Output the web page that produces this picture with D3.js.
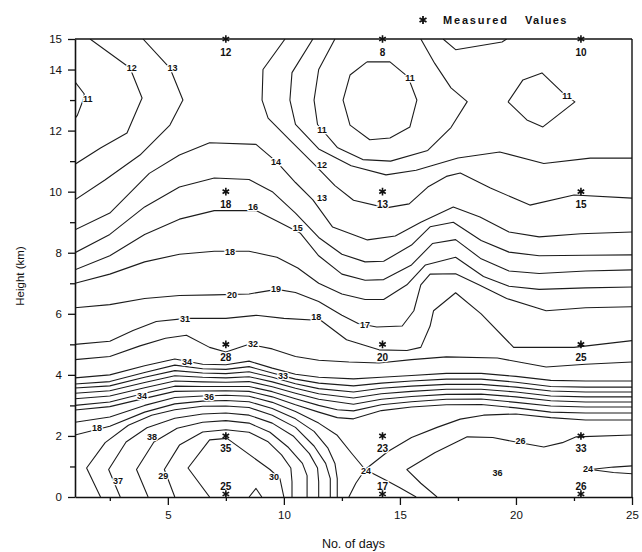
<!DOCTYPE html>
<html>
<head>
<meta charset="utf-8">
<script src="https://cdn.jsdelivr.net/npm/d3@7"></script>
<style>
body { margin: 0; background: #fff; }
text { font-family: "Liberation Sans", Arial, sans-serif; fill: #111; }
</style>
</head>
<body>
<svg id="chart"></svg>
<script>
var canvas_width = 642;
var canvas_height = 552;
var left_offset = 75;
var right_edge = 632;
var top_offset = 39;
var bottom_edge = 497;

// traced contour lines, [day, km]
const top_lines = [
    [[1,13.6],[1.4,13.2],[1.35,13.0],[1.1,12.5],[1,12.4]],
    [[1.65,15],[3.37,14.05],[3.89,13.07],[3.24,11.92],[2.1,11.43],[1,10.9]],
    [[3.93,15],[5.09,14.05],[5.65,13.0],[5.09,12.18],[3.8,11.2],[2.29,10.38],[1,9.73]],
    [[10.05,15],[9.1,14],[9.06,13],[9.32,12.41],[10.26,11.69],[11.3,10.9],[12.2,10.2],[13.0,9.72],[14.4,9.47],[15.4,9.6],[16.2,10.15],[17.0,10.5],[17.6,10.61],[18.9,10.12],[20.6,9.56],[22.5,9.89],[25,9.79]],
    [[11.25,15],[10.35,13.9],[10.26,13.0],[10.5,12.2],[11.5,11.4],[12.9,10.85],[14.4,10.55],[15.7,10.7],[17.5,11.1],[19.3,11.3],[21.2,10.92],[23.2,11.1],[25,11.1]],
    [[12.2,15],[11.5,14.0],[11.3,13.0],[11.45,12.2],[12.3,11.45],[13.4,11.05],[14.6,11.0],[16.2,11.35],[17.2,12.1],[17.9,12.95],[17.2,13.4],[16.5,14.2],[15.9,15]],
    [[13.58,14.25],[14.57,14.25],[15.35,13.76],[15.73,13.0],[15.43,12.12],[14.57,11.76],[13.7,11.7],[12.85,12.18],[12.55,13.0],[12.85,13.82],[13.58,14.25]],
    [[19.66,12.94],[20.3,13.66],[21.12,13.89],[22.11,13.17],[22.54,12.94],[21.16,12.12],[20.47,12.35],[19.66,12.94]],
    [[16.86,15],[17.4,14.65],[19.4,14.9],[19.6,15]]
];

const mid_lines = [
    [[1,8.75],[2.5,9.3],[4.2,10.6],[5.5,11.2],[6.8,11.6],[8.8,11.55],[9.7,10.97],[10.5,10.3],[11.25,9.73],[12.1,8.84],[13.6,8.42],[14.8,8.55],[15.9,9.0],[17.3,9.5],[18.45,9.17],[19.7,8.68],[21,8.52],[22.8,8.62],[25,8.68]],
    [[1,8.0],[2.5,8.6],[4,9.5],[5.5,10.15],[7,10.45],[8.5,10.4],[9.5,10.0],[10.5,9.3],[11.5,8.5],[12.5,7.95],[13.5,7.7],[14.3,7.72],[15.5,8.25],[16.3,8.85],[17.3,9.0],[18.5,8.4],[19.7,8.02],[21,7.9],[23,7.92],[25,7.93]],
    [[1,7.44],[2.5,7.9],[4,8.6],[5.5,9.1],[7,9.38],[8.8,9.38],[9.8,9.0],[10.7,8.65],[11.5,7.9],[12.5,7.3],[13.5,7.1],[14.3,7.12],[15.5,7.6],[16.4,8.3],[17.4,8.43],[18.5,7.8],[19.7,7.4],[21,7.32],[23,7.4],[25,7.44]],
    [[1,7.0],[2.5,7.3],[4,7.7],[5.5,7.95],[7,8.05],[8.5,8.05],[9.7,7.85],[10.6,7.5],[11.5,7.0],[12.5,6.65],[13.5,6.47],[14.3,6.47],[15.3,6.95],[16.1,7.6],[17.4,7.85],[18.6,7.22],[19.7,6.9],[21,6.8],[23,6.85],[25,6.88]],
    [[1,6.2],[2.5,6.3],[4,6.5],[5.5,6.6],[7,6.62],[8.5,6.65],[9.7,6.8],[10.5,6.7],[11.5,6.4],[12.5,5.95],[13.2,5.68],[14,5.57],[15.1,5.6],[15.6,6.1],[15.9,6.95],[16.3,7.3],[17.4,7.31],[18.4,6.95],[19.6,6.5],[21.3,6.1],[23,6.2],[25,6.23]],
    [[1,5.0],[2.5,5.1],[3.5,5.45],[4.5,5.75],[5.8,5.85],[7.5,5.85],[8.8,5.95],[10,5.85],[11.6,5.78],[12.7,5.15],[14.1,4.82],[15.3,4.8],[15.9,4.9],[16.3,5.6],[16.45,6.1],[17.4,6.69],[18.5,6.0],[19.9,4.9],[22.5,4.9],[25,5.12]],
    [[1,4.5],[2.5,4.6],[3.8,4.95],[4.9,5.2],[5.8,5.3],[6.8,4.9],[7.5,4.75],[8.5,5.0],[9.5,4.85],[10.5,4.6],[11.5,4.48],[12.8,4.42],[14.1,4.39],[15.5,4.5],[17,4.59],[19.2,4.55],[21.3,4.26],[23,4.35],[25,4.42]]
];

const low_lines = [
    [[1,3.9],[2.5,4.0],[4,4.3],[5.3,4.52],[6.5,4.35],[7.5,4.33],[8.5,4.45],[9.5,4.22],[10.5,4.02],[11.5,3.92],[13,3.87],[14.2,3.92],[15.5,3.98],[17,4.05],[18.5,4.05],[20,3.95],[21.5,3.82],[23,3.8],[25,3.8]],
    [[1,3.7],[2.5,3.78],[4,4.08],[5.3,4.32],[6.5,4.2],[7.5,4.18],[8.5,4.27],[9.5,4.06],[10.5,3.86],[11.5,3.73],[13,3.64],[14.2,3.73],[15.5,3.8],[17,3.86],[18.5,3.86],[20,3.76],[21.5,3.62],[23,3.6],[25,3.6]],
    [[1,3.57],[2.5,3.64],[4,3.92],[5.3,4.14],[6.5,4.06],[7.5,4.04],[8.5,4.1],[9.5,3.92],[10.5,3.71],[11.5,3.55],[13,3.44],[14.2,3.56],[15.5,3.63],[17,3.69],[18.5,3.69],[20,3.6],[21.5,3.47],[23,3.44],[25,3.44]],
    [[1,3.4],[2.5,3.48],[4,3.75],[5.3,3.97],[6.5,3.92],[7.5,3.9],[8.5,3.94],[9.5,3.77],[10.5,3.56],[11.5,3.38],[13,3.24],[14.2,3.38],[15.5,3.46],[17,3.53],[18.5,3.53],[20,3.44],[21.5,3.31],[23,3.28],[25,3.28]],
    [[1,3.22],[2.5,3.31],[4,3.58],[5.3,3.8],[6.5,3.77],[7.5,3.76],[8.5,3.78],[9.5,3.61],[10.5,3.4],[11.5,3.2],[13,3.04],[14.2,3.2],[15.5,3.29],[17,3.36],[18.5,3.37],[20,3.28],[21.5,3.15],[23,3.11],[25,3.11]],
    [[1,3.0],[2.5,3.11],[4,3.4],[5.3,3.63],[6.5,3.62],[7.5,3.62],[8.5,3.62],[9.5,3.45],[10.5,3.22],[11.5,3.0],[12.3,2.86],[13,2.82],[14.2,3.02],[15.5,3.12],[17,3.2],[18.5,3.21],[20,3.1],[21.5,2.98],[23,2.95],[25,2.95]],
    [[1,2.85],[2.5,2.96],[4,3.23],[5.3,3.46],[6.5,3.47],[7.5,3.48],[8.5,3.46],[9.5,3.28],[10.5,3.02],[11.5,2.78],[12.3,2.6],[13,2.56],[14.2,2.83],[15.5,2.95],[17,3.02],[18.5,3.03],[20,2.92],[21.5,2.78],[23,2.75],[25,2.75]],
    [[1,2.45],[2.5,2.62],[4,3.0],[5.3,3.26],[6.5,3.31],[7.5,3.33],[8.5,3.3],[9.5,3.1],[10.5,2.8],[11.5,2.42],[12.3,2.02],[12.9,1.45],[13.5,0.9],[14.4,0.55],[15,0.3],[15.7,0]],
    [[1,2.03],[2.5,2.32],[4,2.78],[5.3,3.05],[6.5,3.14],[7.5,3.16],[8.5,3.12],[9.5,2.9],[10.5,2.56],[11.3,2.15],[11.9,1.6],[12.2,1.1],[12.3,0.6],[12.3,0]],
    [[12.8,0],[13.1,0.45],[13.5,0.9],[14.5,1.5],[15.5,1.95],[16.6,2.28],[17.6,2.55],[18.6,2.68],[20,2.72],[21.5,2.6],[23,2.52],[25,2.52]],
    [[16.6,0],[15.9,0.45],[15.3,0.9],[16.5,1.45],[17.9,1.97],[19,1.95],[20,1.8],[21.2,1.64],[22,1.78],[22.6,1.97],[25,2.03]],
    [[25,1.02],[24.2,0.98],[23.2,0.9],[24.2,0.8],[25,0.76]]
];

const peak_lines = [
    [[2.1,0],[1.5,0.95],[2.3,1.78],[3.3,2.35],[4.3,2.68],[5.3,2.86],[6.5,2.97],[7.5,2.98],[8.5,2.93],[9.5,2.68],[10.5,2.28],[11.3,1.67],[11.8,1.1],[12,0.6],[12,0]],
    [[2.95,0],[2.45,0.9],[3.2,1.8],[4.1,2.27],[5.3,2.58],[6.5,2.72],[7.5,2.75],[8.5,2.68],[9.5,2.42],[10.4,2.0],[11.1,1.42],[11.45,0.95],[11.5,0.5],[11.5,0]],
    [[4.15,0],[3.65,0.9],[4.4,1.8],[5.4,2.25],[6.5,2.45],[7.5,2.5],[8.5,2.42],[9.4,2.12],[10.2,1.62],[10.8,1.1],[11,0.7],[11,0]],
    [[5.3,0],[4.85,0.9],[5.5,1.7],[6.5,2.13],[7.5,2.2],[8.5,2.12],[9.3,1.82],[9.9,1.38],[10.3,0.95],[10.35,0.5],[10.35,0]],
    [[6.8,0],[5.87,0.95],[6.8,1.87],[7.55,1.92],[9.4,0.9],[9.83,0.6],[10,0]],
    [[8.5,0],[8.8,0.28],[9.05,0]]
];

// contour value labels as printed
const label_text = ["11","12","13","14","11","12","13","11","11","15","18","16","19","20","31","32","34","33","34","36","18","38","37","29","30","17","18","24","26","36","24"];
const label_day  = [1.55,3.45,5.2,9.66,11.64,11.64,11.64,15.43,22.2,10.6,7.68,8.67,9.66,7.76,5.74,8.67,5.83,9.96,3.89,6.77,1.95,4.32,2.85,4.8,9.57,13.5,11.4,13.54,20.2,19.2,23.1];
const label_km   = [13.05,14.05,14.05,10.97,12.02,10.87,9.79,13.73,13.13,8.81,8.02,9.5,6.81,6.62,5.83,5.01,4.42,3.96,3.31,3.28,2.26,1.97,0.52,0.69,0.66,5.63,5.9,0.85,1.83,0.79,0.92];

// measured values
const measured_days = [7.5, 14.25, 22.8];
const measured_heights = [0, 2, 5, 10, 15];
const measured_values = [
    ["25","35","28","18","12"],
    ["17","23","20","13","8"],
    ["26","33","25","15","10"]
];

const x_major = [5, 10, 15, 20, 25];
const x_minor = [2.5, 7.5, 12.5, 17.5, 22.5];
const y_major = [0, 2, 4, 6, 8, 10, 12, 14, 15];
const y_minor = [1, 3, 5, 7, 9, 11, 13];

let svg = d3.select("#chart")
    .attr("width", canvas_width)
    .attr("height", canvas_height);

svg.append("rect").attr("width", canvas_width).attr("height", canvas_height).attr("fill", "#fff");

let x = d3.scaleLinear().domain([1, 25]).range([left_offset, right_edge]);
let y = d3.scaleLinear().domain([0, 15]).range([bottom_edge, top_offset]);

draw_contours();
draw_labels();
draw_measured();
draw_axes();
draw_legend();

function draw_contours(){
    svg.append("clipPath").attr("id", "plot-clip")
        .append("rect")
        .attr("x", left_offset).attr("y", top_offset)
        .attr("width", right_edge - left_offset)
        .attr("height", bottom_edge - top_offset);

    let line = d3.line()
        .x(d => x(d[0]))
        .y(d => y(d[1]))
        .curve(d3.curveLinear);

    let all_lines = top_lines.concat(mid_lines, low_lines, peak_lines);

    svg.append("g")
        .attr("clip-path", "url(#plot-clip)")
        .selectAll(".contour")
        .data(all_lines)
        .join("path")
        .attr("class", "contour")
        .attr("d", line)
        .attr("fill", "none")
        .attr("stroke", "#1c1c1c")
        .attr("stroke-width", 1.1)
        .attr("stroke-linejoin", "round");
}

function draw_labels(){
    svg.append("g")
        .selectAll(".clabel")
        .data(label_text)
        .join("text")
        .attr("class", "clabel")
        .attr("x", (d, i) => x(label_day[i]))
        .attr("y", (d, i) => y(label_km[i]))
        .attr("dy", "0.35em")
        .attr("text-anchor", "middle")
        .style("font-size", "9px")
        .style("font-weight", "bold")
        .style("paint-order", "stroke")
        .attr("stroke", "#fff")
        .attr("stroke-width", 2.5)
        .text(d => d);
}

function draw_measured(){
    let pts = [];
    measured_days.forEach((day, i) => {
        measured_heights.forEach((h, j) => {
            pts.push({day: day, h: h, v: measured_values[i][j]});
        });
    });

    let star = d3.symbol().type(d3.symbolAsterisk || d3.symbolCross).size(40);

    svg.append("g")
        .selectAll(".mval")
        .data(pts)
        .join("text")
        .attr("class", "mval")
        .attr("x", d => x(d.day))
        .attr("y", d => y(d.h) + (d.h == 0 ? -11 : 13))
        .attr("dy", "0.35em")
        .attr("text-anchor", "middle")
        .style("font-size", "10px")
        .style("font-weight", "bold")
        .style("paint-order", "stroke")
        .attr("stroke", "#fff")
        .attr("stroke-width", 2.5)
        .text(d => d.v);

    svg.append("g")
        .selectAll(".mark")
        .data(pts)
        .join("path")
        .attr("class", "mark")
        .attr("transform", d => "translate(" + x(d.day) + "," + (y(d.h) - (d.h == 0 ? 3 : 0)) + ")")
        .attr("d", star)
        .attr("fill", "#111")
        .attr("stroke", "#111")
        .attr("stroke-width", 1.6);
}

function draw_axes(){
    let fmt = d3.format("d");

    let gx = svg.append("g")
        .attr("transform", "translate(0," + bottom_edge + ")")
        .call(d3.axisBottom(x).tickValues(x_major).tickSize(8).tickSizeOuter(0).tickPadding(6).tickFormat(fmt));
    svg.append("g")
        .attr("transform", "translate(0," + bottom_edge + ")")
        .call(d3.axisBottom(x).tickValues(x_minor).tickSize(4).tickFormat(""))
        .select(".domain").remove();

    let gy = svg.append("g")
        .attr("transform", "translate(" + left_offset + ",0)")
        .call(d3.axisLeft(y).tickValues(y_major).tickSize(7).tickSizeOuter(0).tickPadding(6).tickFormat(fmt));
    svg.append("g")
        .attr("transform", "translate(" + left_offset + ",0)")
        .call(d3.axisLeft(y).tickValues(y_minor).tickSize(5).tickFormat(""))
        .select(".domain").remove();

    svg.selectAll(".tick text")
        .style("font-size", "11.5px")
        .style("font-family", "'Liberation Sans', Arial, sans-serif")
        .attr("fill", "#111");
    svg.selectAll(".tick line").attr("stroke", "#111").attr("stroke-width", 1.3);
    svg.selectAll(".domain").attr("stroke", "#111").attr("stroke-width", 1.6);

    // top and right frame
    svg.append("line")
        .attr("x1", left_offset).attr("x2", right_edge)
        .attr("y1", top_offset).attr("y2", top_offset)
        .attr("stroke", "#111").attr("stroke-width", 1.6);
    svg.append("line")
        .attr("x1", right_edge).attr("x2", right_edge)
        .attr("y1", top_offset).attr("y2", bottom_edge)
        .attr("stroke", "#111").attr("stroke-width", 1.4);

    svg.append("text")
        .attr("x", (left_offset + right_edge) / 2)
        .attr("y", 548)
        .attr("text-anchor", "middle")
        .style("font-size", "12.5px")
        .text("No. of days");

    svg.append("text")
        .attr("transform", "translate(24,276) rotate(-90)")
        .attr("text-anchor", "middle")
        .style("font-size", "11.5px")
        .text("Height (km)");
}

function draw_legend(){
    let star = d3.symbol().type(d3.symbolAsterisk || d3.symbolCross).size(45);
    svg.append("path")
        .attr("transform", "translate(423,20)")
        .attr("d", star)
        .attr("fill", "#111")
        .attr("stroke", "#111")
        .attr("stroke-width", 1.8);
    svg.append("text")
        .attr("x", 443).attr("y", 24)
        .style("font-size", "11px")
        .style("font-weight", "bold")
        .style("letter-spacing", "1.8px")
        .text("Measured");
    svg.append("text")
        .attr("x", 525).attr("y", 24)
        .style("font-size", "11px")
        .style("font-weight", "bold")
        .style("letter-spacing", "1.3px")
        .text("Values");
}
</script>
</body>
</html>
